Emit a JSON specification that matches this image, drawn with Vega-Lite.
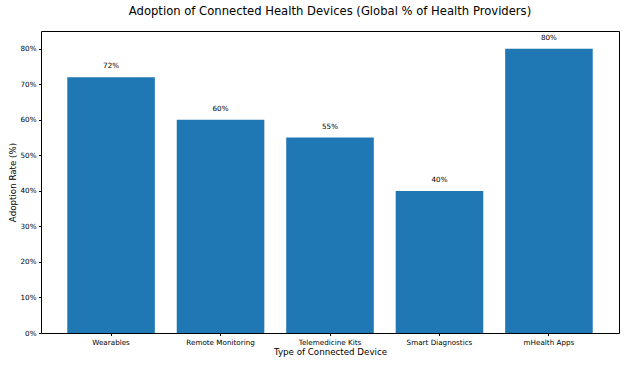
{
  "$schema": "https://vega.github.io/schema/vega-lite/v6.json",
  "autosize": "none",
  "width": 578,
  "height": 302,
  "padding": {"left": 41, "top": 31, "right": 8, "bottom": 33},
  "background": "white",
  "title": {
    "text": "Adoption of Connected Health Devices (Global % of Health Providers)",
    "font": "DejaVu Sans",
    "fontSize": 11.6,
    "fontWeight": "normal",
    "color": "black",
    "offset": 13,
    "anchor": "middle"
  },
  "config": {
    "view": {"stroke": "black", "strokeWidth": 1},
    "axis": {
      "labelFont": "DejaVu Sans",
      "labelFontSize": 7.2,
      "labelColor": "black",
      "titleFont": "DejaVu Sans",
      "titleFontSize": 8.7,
      "titleFontWeight": "normal",
      "titleColor": "black",
      "tickColor": "black",
      "tickSize": 2.5,
      "domain": false,
      "grid": false
    }
  },
  "data": {
    "values": [
      {"device": "Wearables", "rate": 72},
      {"device": "Remote Monitoring", "rate": 60},
      {"device": "Telemedicine Kits", "rate": 55},
      {"device": "Smart Diagnostics", "rate": 40},
      {"device": "mHealth Apps", "rate": 80}
    ]
  },
  "encoding": {
    "x": {
      "field": "device",
      "type": "nominal",
      "sort": null,
      "scale": {"paddingInner": 0.2, "paddingOuter": 0.24},
      "axis": {"title": "Type of Connected Device", "labelAngle": 0, "labelPadding": 2.5, "titlePadding": 2}
    },
    "y": {
      "field": "rate",
      "type": "quantitative",
      "scale": {"domain": [0, 85], "nice": false},
      "axis": {
        "title": "Adoption Rate (%)",
        "values": [0, 10, 20, 30, 40, 50, 60, 70, 80],
        "labelExpr": "datum.value + '%'",
        "labelPadding": 2.5,
        "titlePadding": 3
      }
    }
  },
  "layer": [
    {"mark": {"type": "bar", "color": "#1f77b4"}},
    {
      "mark": {"type": "text", "baseline": "bottom", "dy": -7, "font": "DejaVu Sans", "fontSize": 7.2, "color": "black"},
      "encoding": {"text": {"field": "label"}},
      "transform": [{"calculate": "datum.rate + '%'", "as": "label"}]
    }
  ]
}
